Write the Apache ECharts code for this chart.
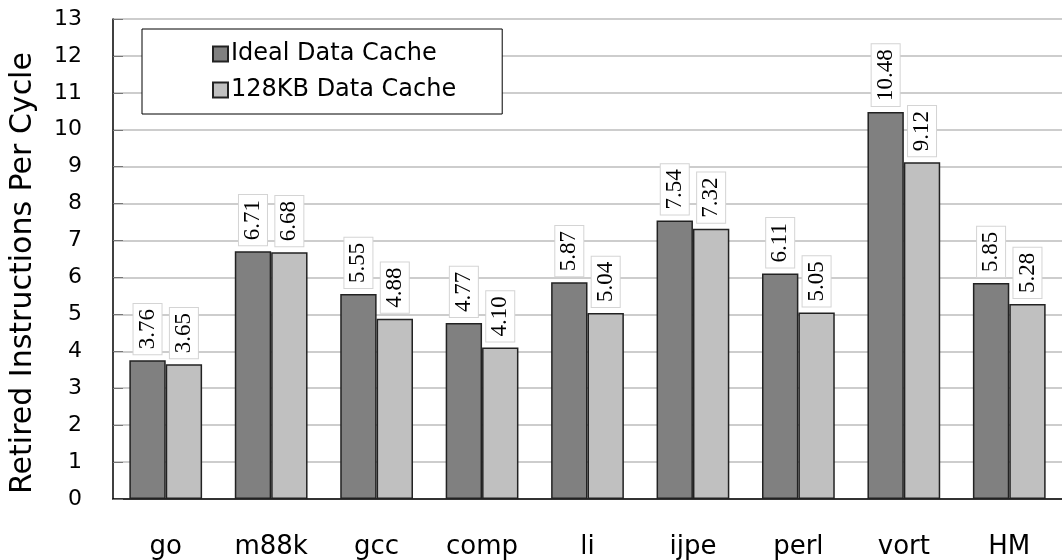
<!DOCTYPE html>
<html><head><meta charset="utf-8">
<script src="https://cdn.jsdelivr.net/npm/echarts@6/dist/echarts.min.js"></script>
<style>html,body{margin:0;padding:0;background:#fff}#c{width:1062px;height:560px}</style>
</head><body><div id="c"></div>
<script>
const categories = ['go','m88k','gcc','comp','li','ijpe','perl','vort','HM'];
const idealValues = [3.76,6.71,5.55,4.77,5.87,7.54,6.11,10.48,5.85];
const kb128Values = [3.65,6.68,4.88,4.10,5.04,7.32,5.05,9.12,5.28];
const seriesNames = ['Ideal Data Cache','128KB Data Cache'];
const yTicks = {min:0,max:13,interval:1};

const sans = 'DejaVu Sans';
const labelCfg = {
  show:true, position:'top', rotate:90, align:'left', verticalAlign:'middle', distance:6,
  fontFamily:'Liberation Serif', fontSize:23, color:'#000',
  backgroundColor:'#fff', borderColor:'#d4d4d4', borderWidth:1, padding:[3,5,2,5],
  formatter: p => p.value.toFixed(2)
};
const chart = echarts.init(document.getElementById('c'));
chart.setOption({
  animation:false,
  grid:{left:112, top:19, bottom:61, right:-8, containLabel:false},
  legend:{
    left:142, top:29, orient:'vertical', backgroundColor:'#fff', borderColor:'#000', borderWidth:1,
    padding:[13,46,12,70], itemGap:12, itemWidth:15, itemHeight:15,
    textStyle:{fontFamily:sans, fontSize:24, color:'#000', padding:[0,0,0,-2]},
    icon:'rect', data:seriesNames
  },
  xAxis:{
    type:'category', data:categories,
    axisLine:{lineStyle:{color:'#000',width:1.5}},
    axisTick:{inside:true,length:10,lineStyle:{color:'#000'}},
    axisLabel:{fontFamily:sans, fontSize:26, color:'#000', margin:35}
  },
  yAxis:{
    type:'value', min:yTicks.min, max:yTicks.max, interval:yTicks.interval,
    name:'Retired Instructions Per Cycle', nameLocation:'middle', nameGap:75, nameRotate:90,
    nameTextStyle:{fontFamily:sans, fontSize:30, color:'#000', padding:[0,28,0,0]},
    axisLine:{show:true,lineStyle:{color:'#000',width:1.5}},
    axisTick:{show:true,inside:true,length:10,lineStyle:{color:'#777'}},
    splitLine:{lineStyle:{color:'#bdbdbd',width:1.5}},
    axisLabel:{fontFamily:sans, fontSize:22, color:'#000', margin:31}
  },
  series:[
    {name:seriesNames[0], type:'bar', data:idealValues, barGap:'0%', barCategoryGap:'31%',
     itemStyle:{color:'#808080', borderColor:'#222', borderWidth:1.5}, label:labelCfg},
    {name:seriesNames[1], type:'bar', data:kb128Values, barGap:'0%', barCategoryGap:'31%',
     itemStyle:{color:'#c0c0c0', borderColor:'#222', borderWidth:1.5}, label:labelCfg}
  ]
});
</script></body></html>
